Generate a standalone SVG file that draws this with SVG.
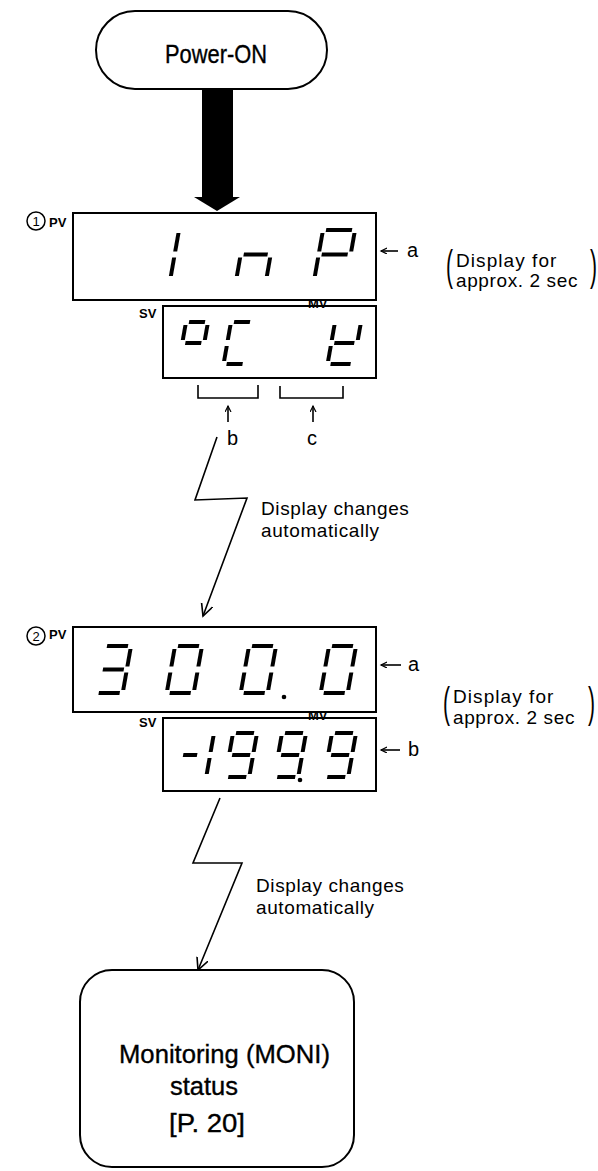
<svg xmlns="http://www.w3.org/2000/svg" xmlns:xlink="http://www.w3.org/1999/xlink" width="598" height="1171" viewBox="0 0 598 1171">
<style>
.t{font-family:"Liberation Sans",Arial,sans-serif;fill:#000}
.lab{font-weight:bold;font-size:13px}
.box{fill:#fff;stroke:#000;stroke-width:2}
.ln{fill:none;stroke:#000;stroke-width:1.6}
.seg line{stroke:#000;stroke-width:4;stroke-linecap:butt}
.side{font-size:19px;letter-spacing:0.6px}
.let{font-size:20px}
.big{font-size:26px;stroke:#000;stroke-width:0.35}
</style>
<defs>
<marker id="ah" markerUnits="userSpaceOnUse" markerWidth="14" markerHeight="14" refX="12" refY="6" orient="auto"><path d="M0,0 L12,6 L0,12" fill="none" stroke="#000" stroke-width="1.6"/></marker>
<marker id="sa" markerUnits="userSpaceOnUse" markerWidth="8" markerHeight="8" refX="6" refY="3" orient="auto"><path d="M0,0 L6,3 L0,6" fill="none" stroke="#000" stroke-width="1.2"/></marker>
<g id="p0" class="seg"><line x1="3" y1="0" x2="24" y2="0"/><line x1="27" y1="3" x2="27" y2="20.5"/><line x1="27" y1="26.5" x2="27" y2="44"/><line x1="3" y1="47" x2="24" y2="47"/><line x1="0" y1="26.5" x2="0" y2="44"/><line x1="0" y1="3" x2="0" y2="20.5"/></g>
<g id="p3" class="seg"><line x1="3" y1="0" x2="24" y2="0"/><line x1="27" y1="3" x2="27" y2="20.5"/><line x1="27" y1="26.5" x2="27" y2="44"/><line x1="3" y1="47" x2="24" y2="47"/><line x1="3" y1="23.5" x2="24" y2="23.5"/></g>
<g id="s9" class="seg"><line x1="3" y1="0" x2="21" y2="0"/><line x1="24" y1="3" x2="24" y2="19"/><line x1="24" y1="25" x2="24" y2="41"/><line x1="3" y1="44" x2="21" y2="44"/><line x1="0" y1="3" x2="0" y2="19"/><line x1="3" y1="22" x2="21" y2="22"/></g>
</defs>
<rect width="598" height="1171" fill="#fff"/>

<g id="power-on">
<rect class="box" x="96" y="11" width="231" height="78" rx="39"/>
<text class="t big" x="165" y="63" font-size="25" textLength="102" lengthAdjust="spacingAndGlyphs">Power-ON</text>
</g>

<g id="connectors">
<rect x="202" y="88" width="31" height="110" fill="#000"/>
<polygon points="194,197 240,197 217,211" fill="#000"/>
<polyline class="ln" points="217,437 195,500 247,498 203,616" marker-end="url(#ah)"/>
<polyline class="ln" points="220,798 193,863 242,863 198,970" marker-end="url(#ah)"/>
</g>

<g id="display1">
<circle cx="36" cy="221" r="9" fill="none" stroke="#000" stroke-width="1.5"/>
<text class="t" x="36" y="226" font-size="13" text-anchor="middle">1</text>
<text class="t lab" x="49" y="227">PV</text>
<rect class="box" x="73" y="213" width="303" height="87"/>
<g class="seg" transform="translate(179,230) skewX(-10)"><line x1="0" y1="3" x2="0" y2="21.5"/><line x1="0" y1="27.5" x2="0" y2="46"/></g>
<g class="seg" transform="translate(245,230) skewX(-10)"><line x1="3" y1="24.5" x2="27" y2="24.5"/><line x1="0" y1="27.5" x2="0" y2="46"/><line x1="30" y1="27.5" x2="30" y2="46"/></g>
<g class="seg" transform="translate(323,230) skewX(-10)"><line x1="3" y1="0" x2="29" y2="0"/><line x1="0" y1="3" x2="0" y2="21.5"/><line x1="32" y1="3" x2="32" y2="21.5"/><line x1="3" y1="24.5" x2="29" y2="24.5"/><line x1="0" y1="27.5" x2="0" y2="46"/></g>
<text class="t lab" x="139" y="318">SV</text>
<rect class="box" x="163" y="306" width="213" height="72"/>
<text class="t lab" x="308" y="308">MV</text>
<g class="seg" transform="translate(186,322) skewX(-10)"><line x1="3" y1="0" x2="19" y2="0"/><line x1="22" y1="3" x2="22" y2="18"/><line x1="0" y1="3" x2="0" y2="18"/><line x1="3" y1="21" x2="19" y2="21"/></g>
<g class="seg" transform="translate(231,322) skewX(-10)"><line x1="3" y1="0" x2="19" y2="0"/><line x1="0" y1="3" x2="0" y2="18"/><line x1="0" y1="24" x2="0" y2="39"/><line x1="3" y1="42" x2="19" y2="42"/></g>
<g class="seg" transform="translate(335,322) skewX(-10)"><line x1="0" y1="3" x2="0" y2="18"/><line x1="26" y1="3" x2="26" y2="18"/><line x1="3" y1="21" x2="23" y2="21"/><line x1="0" y1="24" x2="0" y2="39"/><line x1="3" y1="42" x2="23" y2="42"/></g>
</g>

<g id="annotations1">
<line class="ln" x1="398" y1="251" x2="381" y2="251" marker-end="url(#sa)"/>
<text class="t let" x="407" y="257">a</text>
<text class="t" transform="translate(446,280) scale(0.5,1)" font-size="42">(</text>
<text class="t side" x="456" y="267" textLength="101">Display for</text>
<text class="t side" x="456" y="287" textLength="122">approx. 2 sec</text>
<text class="t" transform="translate(590,280) scale(0.5,1)" font-size="42">)</text>
<path class="ln" d="M198,385 V398 H258 V385"/>
<path class="ln" d="M280,386 V398 H343 V386"/>
<line class="ln" x1="228" y1="422" x2="228" y2="406" marker-end="url(#sa)"/>
<line class="ln" x1="313" y1="422" x2="313" y2="406" marker-end="url(#sa)"/>
<text class="t let" x="227" y="445">b</text>
<text class="t let" x="307" y="445">c</text>
<text class="t side" x="261" y="515">Display changes</text>
<text class="t side" x="261" y="537">automatically</text>
</g>

<g id="display2">
<circle cx="36" cy="636" r="9" fill="none" stroke="#000" stroke-width="1.5"/>
<text class="t" x="36" y="641" font-size="13" text-anchor="middle">2</text>
<text class="t lab" x="49" y="639">PV</text>
<rect class="box" x="73" y="627" width="303" height="85"/>
<use xlink:href="#p3" href="#p3" transform="translate(104,646) skewX(-10)"/>
<use xlink:href="#p0" href="#p0" transform="translate(175,646) skewX(-10)"/>
<use xlink:href="#p0" href="#p0" transform="translate(249,646) skewX(-10)"/>
<circle cx="284" cy="697" r="2.3" fill="#000"/>
<use xlink:href="#p0" href="#p0" transform="translate(329,646) skewX(-10)"/>
<text class="t lab" x="139" y="727">SV</text>
<rect class="box" x="163" y="718" width="213" height="73"/>
<text class="t lab" x="308" y="720">MV</text>
<g class="seg" transform="translate(186,733) skewX(-10)"><line x1="1" y1="22" x2="15" y2="22"/><line x1="28" y1="3" x2="28" y2="19"/><line x1="28" y1="25" x2="28" y2="41"/></g>
<use xlink:href="#s9" href="#s9" transform="translate(233,733) skewX(-10)"/>
<use xlink:href="#s9" href="#s9" transform="translate(282,733) skewX(-10)"/>
<circle cx="300" cy="780" r="2.3" fill="#000"/>
<use xlink:href="#s9" href="#s9" transform="translate(332,733) skewX(-10)"/>
</g>

<g id="annotations2">
<line class="ln" x1="401" y1="665" x2="381" y2="665" marker-end="url(#sa)"/>
<text class="t let" x="408" y="671">a</text>
<line class="ln" x1="400" y1="750" x2="381" y2="750" marker-end="url(#sa)"/>
<text class="t let" x="408" y="756">b</text>
<text class="t" transform="translate(443,717) scale(0.5,1)" font-size="42">(</text>
<text class="t side" x="453" y="703" textLength="101">Display for</text>
<text class="t side" x="453" y="724" textLength="122">approx. 2 sec</text>
<text class="t" transform="translate(588,717) scale(0.5,1)" font-size="42">)</text>
<text class="t side" x="256" y="892">Display changes</text>
<text class="t side" x="256" y="914">automatically</text>
</g>

<g id="monitoring">
<rect class="box" x="80" y="970" width="274" height="197" rx="32"/>
<text class="t big" x="119" y="1063" textLength="211" lengthAdjust="spacingAndGlyphs">Monitoring (MONI)</text>
<text class="t big" x="170" y="1095" textLength="68" lengthAdjust="spacingAndGlyphs">status</text>
<text class="t big" x="169" y="1132" textLength="76" lengthAdjust="spacingAndGlyphs">[P. 20]</text>
</g>
</svg>
